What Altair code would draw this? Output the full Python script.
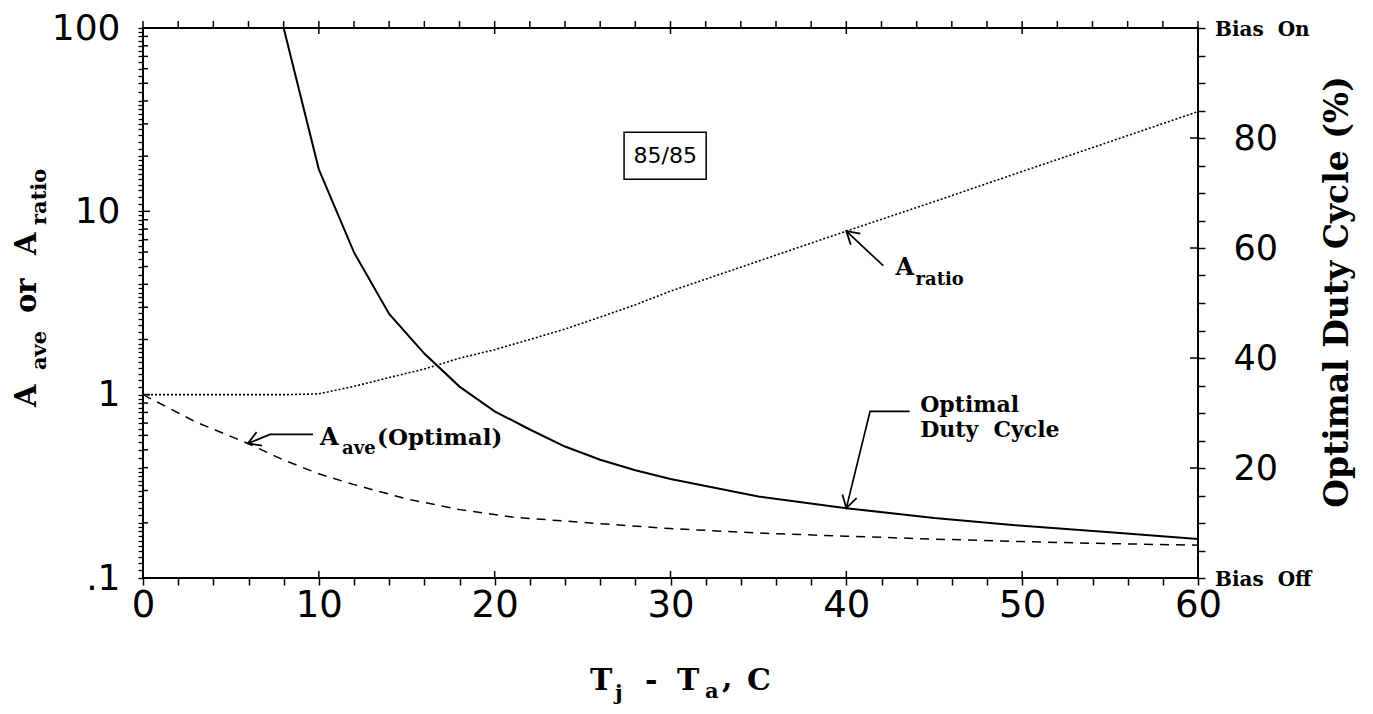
import altair as alt
import pandas as pd

# ---------------- data ----------------
duty_x = [0, 8, 10, 12, 14, 16, 18, 20, 22, 24, 26, 28, 30, 35, 40, 45, 50, 55, 60]
duty_y = [100, 100, 74.3, 59.2, 48.0, 40.8, 34.8, 30.3, 27.0, 23.9, 21.5, 19.6, 18.0,
          14.8, 12.7, 10.9, 9.5, 8.3, 7.1]

ratio_x = [0, 8, 10, 12, 14, 16, 18, 20, 22, 24, 26, 28, 30, 35, 40, 45, 50, 55, 60]
ratio_y = [1.0, 1.0, 1.01, 1.11, 1.24, 1.38, 1.58, 1.76, 2.0, 2.28, 2.65, 3.09, 3.67,
           5.35, 7.8, 11.3, 16.5, 24.0, 35.0]

ave_x = [0, 3, 6, 8, 10, 12, 15, 18, 21, 25, 30, 35, 40, 45, 50, 55, 60]
ave_y = [1.0, 0.71, 0.54, 0.44, 0.37, 0.323, 0.27, 0.236, 0.215, 0.201, 0.186, 0.176,
         0.169, 0.163, 0.158, 0.154, 0.151]

# tick values
x_ticks = list(range(0, 61, 2))
x_major = [0, 10, 20, 30, 40, 50, 60]
left_decades = [0.1, 1, 10, 100]
left_mids = [round(m * d, 6) for d in (0.1, 1, 10) for m in range(2, 10)]
small_mant = [1.1, 1.2, 1.3, 1.4, 1.5, 1.6, 1.7, 1.8, 1.9, 2.2, 2.4, 2.6, 2.8,
              3.2, 3.4, 3.6, 3.8, 4.5, 5.5, 6.5, 7.5, 8.5, 9.5]
left_small = [round(m * d, 6) for d in (0.1, 1, 10) for m in small_mant]
right_ticks = list(range(0, 101, 5))
right_major = [20, 40, 60, 80]

# annotation anchors (in data units)
arr_ratio_x = [42.1, 40.0]
arr_ratio_y = [5.05, 7.8]
arr_ave_x = [9.67, 7.22, 5.97]
arr_ave_y = [0.608, 0.607, 0.542]
arr_duty_x = [43.6, 41.35, 40.0]
arr_duty_y = [30.3, 30.3, 12.7]

W, H = 1055, 550
SERIF = "DejaVu Serif"
SANS = "DejaVu Sans"

xs = alt.Scale(domain=[0, 60], nice=False, zero=False)
yl = alt.Scale(type="log", domain=[0.1, 100], nice=False)
yr = alt.Scale(domain=[0, 100], nice=False, zero=False)

bottom_axis = alt.Axis(
    orient="bottom", values=x_ticks,
    labelExpr="datum.value % 10 == 0 ? datum.label : ''",
    tickSize=7, tickWidth=1.5, tickColor="black", domain=False, grid=False,
    labelFont=SANS, labelFontSize=37, labelColor="black", labelPadding=2,
    labelFlush=False, labelOverlap=False, title=None,
)
left_axis = alt.Axis(
    orient="left", values=left_decades + left_mids + left_small,
    labelExpr="datum.value == 100 ? '100' : datum.value == 10 ? '10' : datum.value == 1 ? '1' : datum.value == 0.1 ? '.1' : ''",
    tickSize=5, tickWidth=1.3, tickColor="black", domain=False, grid=False,
    labelFont=SANS, labelFontSize=36, labelColor="black", labelPadding=18,
    labelOverlap=False, title=None,
)
right_axis = alt.Axis(
    orient="right", values=right_ticks,
    labelExpr="(datum.value % 20 == 0 && datum.value > 0 && datum.value < 100) ? datum.label : ''",
    tickSize=7, tickWidth=1.5, tickColor="black", domain=False, grid=False,
    labelFont=SANS, labelFontSize=35, labelColor="black", labelPadding=28,
    labelOverlap=False, title=None,
)


def X(f):
    return alt.X(f, type="quantitative", scale=xs, axis=bottom_axis)


def YL(f):
    return alt.Y(f, type="quantitative", scale=yl, axis=None)


def YR(f):
    return alt.Y(f, type="quantitative", scale=yr, axis=None)


df_ratio = pd.DataFrame({"x": ratio_x, "y": ratio_y})
df_ave = pd.DataFrame({"x": ave_x, "y": ave_y})
df_duty = pd.DataFrame({"x": duty_x, "y": duty_y})

ratio_line = alt.Chart(df_ratio).mark_line(color="black", strokeWidth=1.6, strokeDash=[2, 2]).encode(
    x=X("x"), y=alt.Y("y:Q", scale=yl, axis=left_axis))
ave_line = alt.Chart(df_ave).mark_line(color="black", strokeWidth=1.5, strokeDash=[9, 7]).encode(
    x=X("x"), y=YL("y"))
duty_line = alt.Chart(df_duty).mark_line(color="black", strokeWidth=2).encode(
    x=X("x"), y=alt.Y("y:Q", scale=yr, axis=right_axis))

rule_kw = dict(color="black", strokeWidth=1.5)
t_bottom_in = alt.Chart(pd.DataFrame({"x": x_major[1:-1]})).mark_rule(**rule_kw).encode(
    x=X("x"), y=alt.value(H), y2=alt.value(H - 7))
t_top_out = alt.Chart(pd.DataFrame({"x": x_ticks})).mark_rule(**rule_kw).encode(
    x=X("x"), y=alt.value(0), y2=alt.value(-7))
t_top_in = alt.Chart(pd.DataFrame({"x": x_major[1:-1]})).mark_rule(**rule_kw).encode(
    x=X("x"), y=alt.value(0), y2=alt.value(6))
t_left_mid = alt.Chart(pd.DataFrame({"v": left_mids})).mark_rule(**rule_kw).encode(
    y=YL("v"), x=alt.value(0), x2=alt.value(5))
t_left_dec = alt.Chart(pd.DataFrame({"v": left_decades[1:-1]})).mark_rule(**rule_kw).encode(
    y=YL("v"), x=alt.value(0), x2=alt.value(7))
t_right_in = alt.Chart(pd.DataFrame({"v": right_major})).mark_rule(**rule_kw).encode(
    y=YR("v"), x=alt.value(W - 8), x2=alt.value(W))

bias = alt.Chart(pd.DataFrame({"v": [100, 0], "t": ["Bias\u00a0\u00a0On", "Bias\u00a0\u00a0Off"]})).mark_text(
    font=SERIF, fontWeight="bold", fontSize=20, align="left", baseline="middle", color="black", dy=2
).encode(y=YR("v"), x=alt.value(W + 17), text="t:N")

# arrows
df_arr_left = pd.DataFrame({
    "x": arr_ratio_x + arr_ave_x,
    "y": arr_ratio_y + arr_ave_y,
    "id": ["r"] * len(arr_ratio_x) + ["a"] * len(arr_ave_x),
    "o": list(range(len(arr_ratio_x))) + list(range(len(arr_ave_x))),
})
arrows_left = alt.Chart(df_arr_left).mark_line(color="black", strokeWidth=1.7).encode(
    x=X("x"), y=YL("y"), detail="id:N", order="o:Q")
df_arr_right = pd.DataFrame({"x": arr_duty_x, "y": arr_duty_y, "o": list(range(len(arr_duty_x)))})
arrows_right = alt.Chart(df_arr_right).mark_line(color="black", strokeWidth=1.7).encode(
    x=X("x"), y=YR("y"), order="o:Q")

HEAD = "M-0.6,1L0,0L0.6,1"
heads_left = alt.Chart(pd.DataFrame({"x": [arr_ratio_x[-1], arr_ave_x[-1]],
                                     "y": [arr_ratio_y[-1], arr_ave_y[-1]],
                                     "a": [311, 248]})).mark_point(
    shape=HEAD, filled=False, size=600, strokeWidth=1.8, color="black", opacity=1
).encode(x=X("x"), y=YL("y"), angle=alt.Angle("a:Q", scale=None))
heads_right = alt.Chart(pd.DataFrame({"x": [arr_duty_x[-1]], "y": [arr_duty_y[-1]], "a": [195]})).mark_point(
    shape=HEAD, filled=False, size=600, strokeWidth=1.8, color="black", opacity=1
).encode(x=X("x"), y=YR("y"), angle=alt.Angle("a:Q", scale=None))


def txt_data(x, y, s, yscale, size, dx=0, dy=0, font=SERIF, weight="bold", align="left", baseline="alphabetic"):
    df = pd.DataFrame({"x": [x], "y": [y], "t": [s]})
    return alt.Chart(df).mark_text(font=font, fontWeight=weight, fontSize=size, align=align,
                                   baseline=baseline, color="black", dx=dx, dy=dy).encode(
        x=X("x"), y=(YL("y") if yscale == "l" else YR("y")), text="t:N")


ann = [
    txt_data(42.8, 4.51, "A", "l", 24),
    txt_data(42.8, 4.51, "ratio", "l", 18, dx=20, dy=10),
    txt_data(10.07, 0.53, "A", "l", 24),
    txt_data(10.07, 0.53, "ave", "l", 18, dx=22, dy=9),
    txt_data(10.07, 0.53, "(Optimal)", "l", 23, dx=57),
    txt_data(44.2, 30.1, "Optimal", "r", 22),
    txt_data(44.2, 30.1, "Duty\u00a0\u00a0Cycle", "r", 22, dy=25),
    txt_data(29.7, 20.1, "85/85", "l", 22, font=SANS, weight="normal", align="center", baseline="middle"),
]

box = alt.Chart(pd.DataFrame({"x": [27.36], "x2": [32.03], "y": [14.95], "y2": [27.0]})).mark_rect(
    fillOpacity=0, stroke="black", strokeWidth=1.5
).encode(x=X("x"), x2="x2:Q", y=YL("y"), y2="y2:Q")

one = pd.DataFrame({"k": [0]})


def txt_px(s, x, y, size, angle=0, align="left"):
    kw = dict(text=s, font=SERIF, fontWeight="bold", fontSize=size, align=align,
              baseline="alphabetic", color="black")
    if angle:
        kw["angle"] = angle
    return alt.Chart(one).mark_text(**kw).encode(x=alt.value(x), y=alt.value(y))


titles = [
    # left axis title  A_ave or A_ratio (reads bottom to top)
    txt_px("A", -107, 379, 29, angle=270),
    txt_px("ave", -97, 342, 21, angle=270),
    txt_px("or", -107, 285, 29, angle=270),
    txt_px("A", -107, 227, 29, angle=270),
    txt_px("ratio", -97, 197, 21, angle=270),
    # right axis title
    txt_px("Optimal Duty Cycle (%)", 1205, 264, 33, angle=270, align="center"),
    # x axis title  T_j - T_a, C
    txt_px("T", 447, 662, 30),
    txt_px("j", 472, 672, 21),
    txt_px("-", 502, 662, 30),
    txt_px("T", 534, 662, 30),
    txt_px("a", 562, 670, 21),
    txt_px(",", 579, 660, 30),
    txt_px("C", 604, 662, 30),
]

layers = [ratio_line, ave_line, duty_line,
          t_bottom_in, t_top_out, t_top_in, t_left_mid, t_left_dec, t_right_in,
          bias, arrows_left, arrows_right, heads_left, heads_right, box] + ann + titles

chart = alt.layer(*layers).resolve_scale(y="independent").properties(
    width=W, height=H,
    autosize=alt.AutoSizeParams(type="none"),
    padding={"left": 135, "top": 20, "right": 167, "bottom": 128},
    background="white",
).configure_view(stroke="black", strokeWidth=2)

chart.save("out.html", embed_options={"renderer": "svg", "actions": False})
